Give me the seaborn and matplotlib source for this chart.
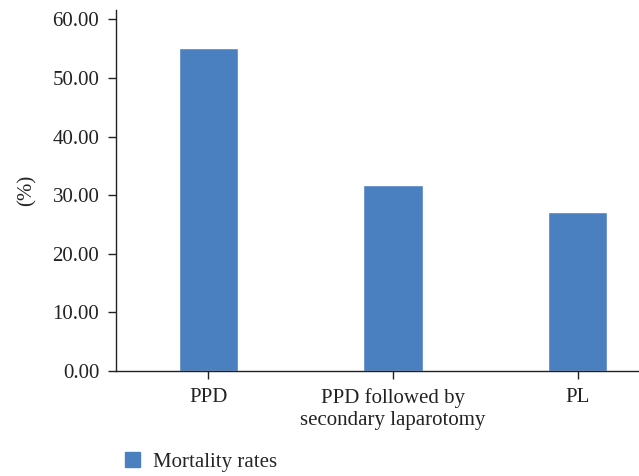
import matplotlib
matplotlib.use("Agg")
import matplotlib.pyplot as plt
import seaborn as sns
import pandas as pd
from matplotlib.patches import Patch

categories = ["PPD", "PPD followed by\nsecondary laparotomy", "PL"]
mortality = [55.1, 31.8, 27.2]
yticks = [0, 10, 20, 30, 40, 50, 60]
series_name = "Mortality rates"

sns.set_theme(style="white")
plt.rcParams['font.family'] = ['Liberation Serif', 'DejaVu Serif']

df = pd.DataFrame({"cat": categories, "val": mortality, "series": series_name})

fig = plt.figure(figsize=(6.39, 4.76), dpi=100)
ax = fig.add_axes([116/639, 1 - 371/476, 1 - 116/639, (371 - 10)/476])
sns.barplot(data=df, x="cat", y="val", hue="series", palette=["#4a80c0"],
            width=0.32, ax=ax, legend=False, saturation=1)

ax.set_xlim(-0.501, 2.333)
ax.set_ylim(0, 61.6)
ax.set_yticks(yticks)
ax.set_yticklabels([f"{v:.2f}" for v in yticks])
ax.set_xlabel("")
ax.set_ylabel("(%)", fontsize=15)
ax.yaxis.set_label_coords(-(116 - 37) / 523, (371 - 190) / 361)
ax.tick_params(axis="both", labelsize=15, colors="#222222", length=6, width=1,
               direction="out", bottom=True, left=True)
ax.tick_params(axis="y", pad=6)
ax.tick_params(axis="x", pad=6)
for lbl in ax.get_xticklabels():
    lbl.set_linespacing(1.25)
for side in ["top", "right"]:
    ax.spines[side].set_visible(False)
for side in ["left", "bottom"]:
    ax.spines[side].set_color("#222222")
    ax.spines[side].set_linewidth(1)

fig.legend(handles=[Patch(color="#4a80c0", label=series_name)],
           loc="lower left", bbox_to_anchor=(106/639, -0.03), frameon=False,
           fontsize=15, handlelength=0.75, handleheight=0.75, handletextpad=0.6)

fig.savefig("out.png", dpi=100)
